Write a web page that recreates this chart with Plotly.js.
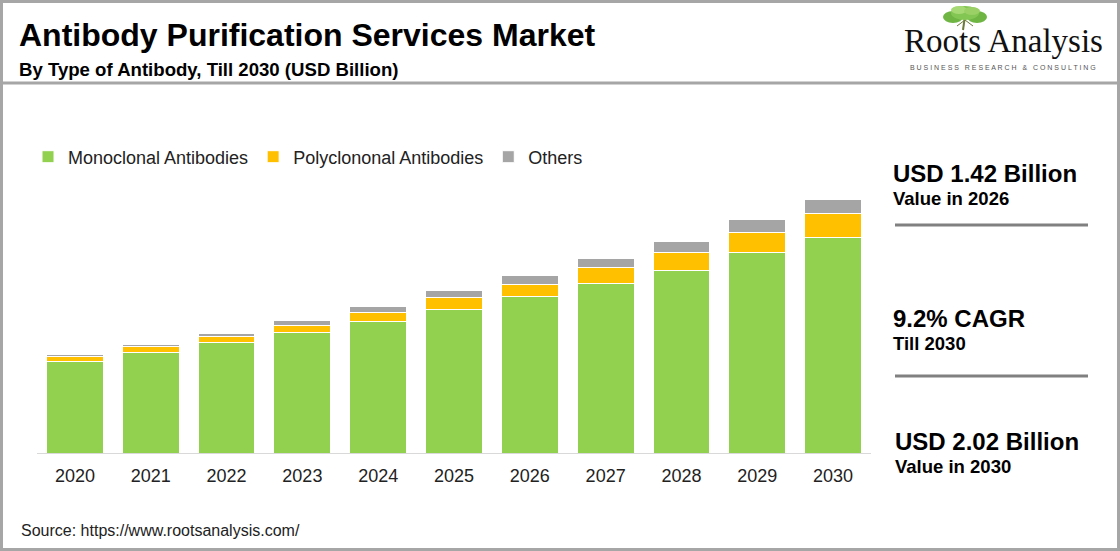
<!DOCTYPE html>
<html>
<head>
<meta charset="utf-8">
<script src="https://cdn.plot.ly/plotly-3.0.1.min.js"></script>
<style>
  html, body { margin: 0; padding: 0; background: #fff; }
  #chart { width: 1120px; height: 551px; }
</style>
</head>
<body>
<div id="chart"></div>
<script>
// values (USD Billion)
var years = ['2020', '2021', '2022', '2023', '2024', '2025', '2026', '2027', '2028', '2029', '2030'];
var monoclonal = [0.727, 0.80, 0.88, 0.96, 1.05, 1.15, 1.25, 1.35, 1.46, 1.60, 1.725];
var polyclonal = [0.040, 0.053, 0.053, 0.061, 0.072, 0.096, 0.096, 0.128, 0.144, 0.160, 0.184];
var others = [0.016, 0.014, 0.022, 0.038, 0.048, 0.048, 0.072, 0.074, 0.082, 0.106, 0.114];

var seriesNames = ['Monoclonal Antibodies', 'Polyclononal Antibodies', 'Others'];
var seriesColors = ['#92d050', '#ffc000', '#a5a5a5'];

var font = 'Liberation Sans, Arial, sans-serif';

// plot area in pixels
var ml = 37, mr = 249, mt = 152, mb = 98;
var W = 1120, H = 551;
var pw = W - ml - mr, ph = H - mt - mb;
function px(x) { return (x - ml) / pw; }
function py(y) { return (H - mb - y) / ph; }

var data = [monoclonal, polyclonal, others].map(function (vals, i) {
  return {
    type: 'bar',
    name: seriesNames[i],
    x: years,
    y: vals,
    marker: { color: seriesColors[i], line: { color: '#ffffff', width: 1 } },
    hoverinfo: 'x+y+name'
  };
});

function txt(text, x, y, size, opts) {
  opts = opts || {};
  return {
    text: text, xref: 'paper', yref: 'paper', x: px(x), y: py(y),
    xanchor: opts.xanchor || 'left', yanchor: 'middle', showarrow: false,
    font: { family: opts.family || font, size: size, color: opts.color || '#000' }
  };
}

var annotations = [
  txt('<b>Antibody Purification Services Market</b>', 17, 35, 32),
  txt('<b>By Type of Antibody, Till 2030 (USD Billion)</b>', 17, 69, 18.6),
  txt('Roots Analysis', 1004, 41, 33, { xanchor: 'center', family: 'Liberation Serif, Times New Roman, serif', color: '#111' }),
  txt('B U S I N E S S   R E S E A R C H   &   C O N S U L T I N G', 1003, 67, 7, { xanchor: 'center', color: '#555' }),
  txt('<b>USD 1.42 Billion</b>', 891, 173, 24),
  txt('<b>Value in 2026</b>', 891, 198, 18.5),
  txt('<b>9.2% CAGR</b>', 891, 318, 24),
  txt('<b>Till 2030</b>', 891, 343, 18.5),
  txt('<b>USD 2.02 Billion</b>', 893, 441, 24),
  txt('<b>Value in 2030</b>', 893, 466, 18.5),
  txt('Source: https://www.rootsanalysis.com/', 19, 530, 16, { color: '#222' })
];

function line(x0, y0, x1, y1, color, width) {
  return { type: 'line', xref: 'paper', yref: 'paper', x0: px(x0), y0: py(y0), x1: px(x1), y1: py(y1),
    line: { color: color, width: width } };
}
function blob(cx, cy, rx, ry, color) {
  return { type: 'circle', xref: 'paper', yref: 'paper', x0: px(cx - rx), x1: px(cx + rx), y0: py(cy + ry), y1: py(cy - ry),
    fillcolor: color, line: { width: 0 }, layer: 'above' };
}

var shapes = [
  // frame
  { type: 'rect', xref: 'paper', yref: 'paper', x0: px(1.5), y0: py(549.5), x1: px(1118.5), y1: py(1.5),
    line: { color: '#a6a6a6', width: 3 } },
  line(2, 83, 1118, 83, '#a6a6a6', 3),
  // right panel separators
  line(895, 225, 1088, 225, '#808080', 3),
  line(895, 376, 1088, 376, '#808080', 3),
  // logo tree
  line(965, 16, 963, 30, '#6d7a3a', 2),
  line(965, 20, 957, 26, '#6d7a3a', 1),
  line(965, 20, 973, 26, '#6d7a3a', 1),
  blob(953, 17, 10, 6, '#6fb544'),
  blob(977, 17, 10, 6, '#6fb544'),
  blob(965, 13, 14, 7, '#84c653'),
  blob(959, 10, 8, 4, '#a6d873'),
  blob(972, 11, 8, 4, '#9ad066')
];

var layout = {
  width: W, height: H,
  margin: { l: ml, r: mr, t: mt, b: mb, pad: 0 },
  paper_bgcolor: '#ffffff', plot_bgcolor: '#ffffff',
  barmode: 'stack',
  bargap: 0.25,
  font: { family: font, color: '#222' },
  showlegend: true,
  legend: {
    orientation: 'h', x: px(28), y: py(157), xanchor: 'left', yanchor: 'middle',
    font: { family: font, size: 18, color: '#222' }, traceorder: 'normal',
    itemclick: false, itemdoubleclick: false
  },
  xaxis: {
    type: 'category', range: [-0.5, 10.5], showline: true, linecolor: '#d9d9d9', linewidth: 1,
    showgrid: false, zeroline: false, ticks: '', ticklabelstandoff: 6,
    tickfont: { family: font, size: 18, color: '#222' },
    fixedrange: true
  },
  yaxis: { range: [0, ph / 125.2], visible: false, showgrid: false, zeroline: false, fixedrange: true },
  annotations: annotations,
  shapes: shapes
};

Plotly.newPlot('chart', data, layout, { displayModeBar: false, staticPlot: true });
</script>
</body>
</html>
